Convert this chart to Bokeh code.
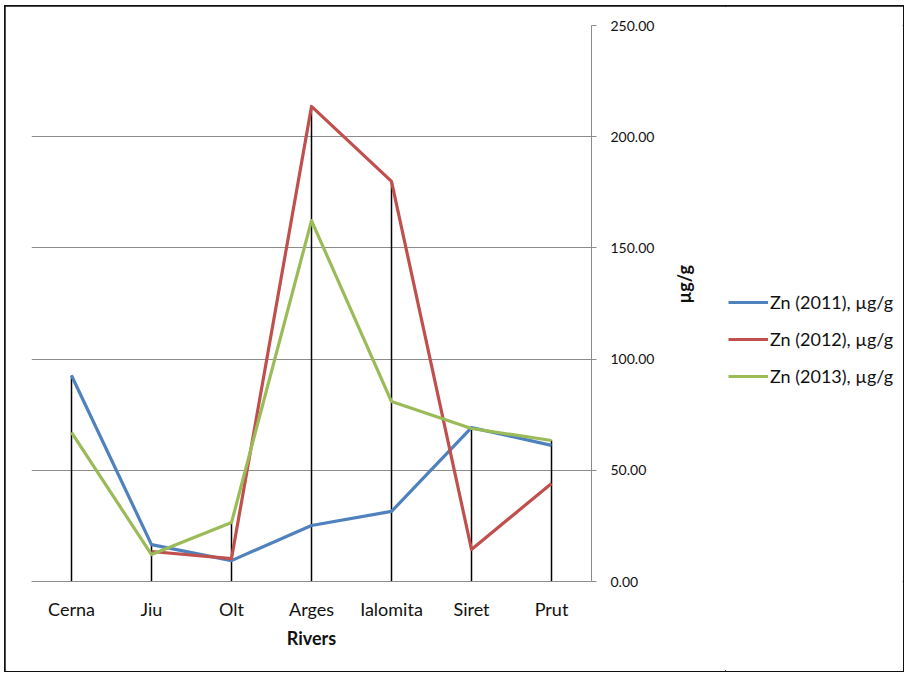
import math
import numpy as np
from bokeh.plotting import figure
from bokeh.layouts import row
from bokeh.models import (FactorRange, Range1d, FixedTicker, NumeralTickFormatter, Legend, LegendItem,
                          ColumnDataSource)
from bokeh.embed import file_html
from bokeh.resources import INLINE

rivers = ["Cerna", "Jiu", "Olt", "Arges", "Ialomita", "Siret", "Prut"]
zn_2011 = [92.6, 16.6, 9.4, 25.2, 31.5, 69.2, 61.2]
zn_2012 = [float("nan"), 13.5, 10.3, 213.6, 179.9, 14.4, 44.1]
zn_2013 = [67.0, 12.1, 26.5, 162.3, 80.9, 68.8, 63.4]
y_ticks = [0, 50, 100, 150, 200, 250]

series_names = ["Zn (2011), µg/g", "Zn (2012), µg/g", "Zn (2013), µg/g"]
colors = ["#4F81BD", "#C0504D", "#9BBB59"]

FONT = "Lato"
TXT = "#111111"

# ---------------- main chart ----------------
p = figure(width=720, height=665, x_range=FactorRange(*rivers), y_range=Range1d(0, 250),
           y_axis_location="right", output_backend="svg", toolbar_location=None,
           min_border_left=26, min_border_right=134, min_border_top=19, min_border_bottom=90)
p.outline_line_color = None
p.background_fill_color = "white"
p.border_fill_color = "white"

p.xgrid.grid_line_color = None
p.ygrid.grid_line_color = "#8c8c8c"
p.ygrid.grid_line_width = 1
p.ygrid.ticker = FixedTicker(ticks=y_ticks)

ya = p.yaxis[0]
ya.ticker = FixedTicker(ticks=y_ticks)
ya.formatter = NumeralTickFormatter(format="0.00")
ya.axis_line_color = "#8c8c8c"
ya.major_tick_line_color = "#8c8c8c"
ya.major_tick_out = 5
ya.major_tick_in = 0
ya.minor_tick_line_color = None
ya.major_label_standoff = 14
ya.major_label_text_font = FONT
ya.major_label_text_font_size = "14px"
ya.major_label_text_color = TXT
ya.axis_label = "µg/g"
ya.axis_label_orientation = math.pi / 2
ya.axis_label_standoff = 27
ya.axis_label_text_font = FONT
ya.axis_label_text_font_style = "bold"
ya.axis_label_text_font_size = "18px"
ya.axis_label_text_color = TXT

xa = p.xaxis[0]
xa.axis_line_color = "#8c8c8c"
xa.major_tick_line_color = None
xa.minor_tick_line_color = None
xa.major_label_standoff = 10
xa.major_label_text_font = FONT
xa.major_label_text_font_size = "18px"
xa.major_label_text_color = TXT
xa.axis_label = "Rivers"
xa.axis_label_standoff = 4
xa.axis_label_text_font = FONT
xa.axis_label_text_font_style = "bold"
xa.axis_label_text_font_size = "18px"
xa.axis_label_text_color = TXT

# drop lines from each category's highest value down to the axis
all_vals = np.array([zn_2011, zn_2012, zn_2013], dtype=float)
tops = np.nanmax(all_vals, axis=0)
p.segment(x0=rivers, y0=[0] * len(rivers), x1=rivers, y1=list(tops), line_color="black", line_width=1.5)

for name, vals, c in zip(series_names, [zn_2011, zn_2012, zn_2013], colors):
    src = ColumnDataSource(dict(x=rivers, y=vals))
    p.line("x", "y", source=src, line_color=c, line_width=3.2, line_join="round")

# ---------------- legend panel ----------------
lf = figure(width=178, height=665, x_range=Range1d(0, 1), y_range=Range1d(0, 1),
            x_axis_type=None, y_axis_type=None, output_backend="svg", toolbar_location=None,
            min_border_left=0, min_border_right=0, min_border_top=0, min_border_bottom=0)
lf.outline_line_color = None
lf.background_fill_color = "white"
lf.border_fill_color = "white"
lf.grid.visible = False

items = []
for name, c in zip(series_names, colors):
    # proxy renderer kept outside the visible range; only its legend swatch shows
    r = lf.line(x=[5, 6], y=[5, 6], line_color=c, line_width=3.2)
    items.append(LegendItem(label=name, renderers=[r]))

legend = Legend(items=items, location=(3, 194), border_line_color=None, background_fill_alpha=0,
                padding=0, margin=0, spacing=15, label_height=20, glyph_height=20, glyph_width=40,
                label_standoff=2, label_text_font=FONT, label_text_font_size="18px",
                label_text_color=TXT)
lf.add_layout(legend, "center")

layout = row(p, lf, spacing=0)
layout.styles = {"outline": "2px solid #111", "outline-offset": "-1px",
                 "margin-left": "5px", "margin-top": "6px"}

open("out.html", "w").write(file_html(layout, INLINE))
